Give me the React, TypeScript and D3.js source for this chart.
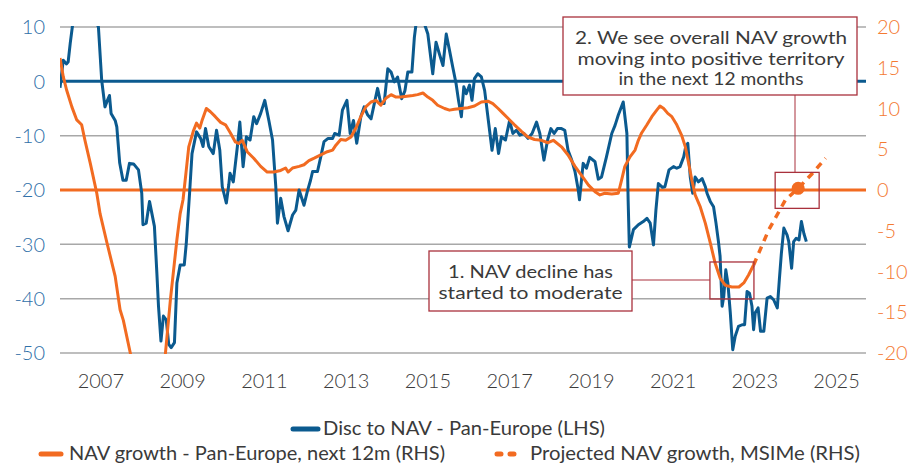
import React from 'react';
import * as d3 from 'd3';

const yearTicks = [2007, 2009, 2011, 2013, 2015, 2017, 2019, 2021, 2023, 2025];
const leftTicks = [10, 0, -10, -20, -30, -40, -50];
const rightTicks = [20, 15, 10, 5, 0, -5, -10, -15, -20];

const discDates = [
  2006.0, 2006.08, 2006.16, 2006.2, 2006.25, 2006.31, 2006.5, 2006.75, 2006.94, 2007.02,
  2007.1, 2007.16, 2007.21, 2007.25, 2007.35, 2007.39, 2007.46, 2007.54, 2007.62, 2007.7,
  2007.8, 2007.92, 2008.0, 2008.03, 2008.11, 2008.19, 2008.31, 2008.37, 2008.41, 2008.47,
  2008.53, 2008.6, 2008.66, 2008.72, 2008.8, 2008.86, 2008.94, 2009.04, 2009.09, 2009.17,
  2009.23, 2009.34, 2009.44, 2009.5, 2009.56, 2009.64, 2009.75, 2009.83, 2009.91, 2009.97,
  2010.07, 2010.13, 2010.16, 2010.24, 2010.34, 2010.4, 2010.48, 2010.56, 2010.65, 2010.74,
  2010.81, 2010.91, 2011.01, 2011.11, 2011.2, 2011.28, 2011.32, 2011.4, 2011.48, 2011.58,
  2011.69, 2011.77, 2011.85, 2011.97, 2012.05, 2012.13, 2012.18, 2012.3, 2012.38, 2012.46,
  2012.56, 2012.67, 2012.72, 2012.83, 2012.91, 2013.02, 2013.1, 2013.18, 2013.26, 2013.36,
  2013.44, 2013.53, 2013.61, 2013.69, 2013.77, 2013.85, 2013.93, 2014.02, 2014.1, 2014.18,
  2014.26, 2014.36, 2014.44, 2014.51, 2014.61, 2014.67, 2014.71, 2014.81, 2014.92, 2015.0,
  2015.12, 2015.2, 2015.28, 2015.37, 2015.45, 2015.53, 2015.61, 2015.69, 2015.75, 2015.82,
  2015.88, 2015.94, 2016.02, 2016.08, 2016.14, 2016.22, 2016.31, 2016.39, 2016.49, 2016.57,
  2016.65, 2016.73, 2016.8, 2016.9, 2017.0, 2017.08, 2017.17, 2017.25, 2017.35, 2017.45,
  2017.55, 2017.66, 2017.74, 2017.84, 2017.93, 2018.01, 2018.09, 2018.17, 2018.27, 2018.35,
  2018.43, 2018.52, 2018.6, 2018.68, 2018.71, 2018.8, 2018.88, 2018.96, 2019.09, 2019.17,
  2019.25, 2019.37, 2019.5, 2019.58, 2019.66, 2019.78, 2019.87, 2019.9, 2019.93, 2019.98,
  2020.03, 2020.15, 2020.27, 2020.36, 2020.44, 2020.52, 2020.58, 2020.64, 2020.74, 2020.8,
  2020.9, 2021.01, 2021.09, 2021.17, 2021.26, 2021.31, 2021.36, 2021.42, 2021.48, 2021.54,
  2021.62, 2021.71, 2021.79, 2021.83, 2021.91, 2021.99, 2022.05, 2022.11, 2022.15, 2022.2,
  2022.24, 2022.29, 2022.34, 2022.4, 2022.46, 2022.52, 2022.6, 2022.69, 2022.75, 2022.81,
  2022.87, 2022.93, 2022.97, 2023.01, 2023.08, 2023.14, 2023.22, 2023.3, 2023.38, 2023.46,
  2023.55, 2023.6, 2023.65, 2023.71, 2023.79, 2023.83, 2023.9, 2023.95, 2024.01, 2024.08,
  2024.14, 2024.2, 2024.26,
];
const discValues = [
  -1.2, 3.9, 3.2, 3.6, 7.0, 10.5, 14, 13, 10.0, 0.2,
  -4.7, -3.5, -2.6, -5.9, -7.2, -8.4, -15.0, -18.2, -18.2, -15.1,
  -15.2, -16.3, -20.6, -26.4, -26.1, -22.1, -26.7, -35.3, -41.4, -47.8,
  -43.2, -43.9, -48.4, -49.0, -48.1, -37.1, -33.8, -33.8, -29.8, -20.6,
  -13.3, -9.3, -10.5, -12.0, -8.7, -12.0, -13.3, -9.0, -12.7, -19.4,
  -22.4, -19.0, -16.9, -18.5, -12.0, -7.5, -15.7, -10.2, -10.8, -6.5,
  -7.8, -5.9, -3.5, -7.2, -10.8, -19.4, -26.1, -21.5, -24.9, -27.5,
  -24.6, -23.7, -20.0, -22.8, -20.3, -18.2, -16.6, -16.6, -13.9, -11.1,
  -10.5, -10.5, -9.6, -9.9, -5.3, -3.5, -9.6, -7.2, -11.4, -6.5,
  -4.7, -6.2, -6.9, -4.1, -1.3, -4.1, -4.1, 2.3, 1.7, -0.1,
  0.8, -3.2, -1.7, 1.7, 1.7, 8.1, 10.5, 13, 10.5, 8.7,
  1.4, 7.2, 5.1, 2.9, 8.7, 5.7, 2.6, -0.4, -3.5, -6.5,
  -1.0, -2.3, -0.7, -3.5, 0.5, 1.4, 0.8, -1.7, -7.8, -12.7,
  -8.7, -13.3, -10.2, -10.8, -7.2, -9.6, -9.0, -9.9, -9.6, -10.5,
  -9.6, -7.5, -9.6, -14.5, -10.8, -8.7, -9.6, -8.7, -8.7, -9.0,
  -12.7, -14.5, -16.6, -20.0, -21.8, -15.1, -16.0, -14.0, -14.8, -18.0,
  -17.6, -13.9, -9.6, -8.1, -6.2, -3.8, -9.6, -21.8, -30.5, -28.9,
  -27.3, -26.4, -25.8, -25.2, -26.1, -30.1, -23.7, -18.8, -19.5, -19.4,
  -16.3, -15.7, -16.0, -15.7, -13.9, -12.0, -11.4, -17.6, -20.6, -17.6,
  -18.5, -17.9, -19.4, -20.6, -22.1, -23.1, -26.1, -29.5, -32.2, -41.4,
  -39.6, -34.7, -37.1, -42.6, -49.4, -46.9, -45.1, -44.8, -44.8, -38.7,
  -39.0, -41.4, -45.7, -42.6, -41.7, -46.0, -46.0, -39.9, -39.6, -40.2,
  -41.7, -36.5, -31.6, -27.0, -28.3, -29.5, -34.4, -29.5, -28.9, -29.2,
  -25.8, -28.0, -29.5,
];

const navDates = [
  2006.0, 2006.08, 2006.16, 2006.29, 2006.41, 2006.53, 2006.61, 2006.74, 2006.9, 2006.98,
  2007.15, 2007.35, 2007.47, 2007.55, 2007.72, 2007.85, 2008.0, 2008.2, 2008.35, 2008.48,
  2008.58, 2008.7, 2008.78, 2008.86, 2008.94, 2009.01, 2009.08, 2009.15, 2009.26, 2009.34,
  2009.42, 2009.48, 2009.58, 2009.68, 2009.8, 2009.93, 2010.05, 2010.17, 2010.29, 2010.38,
  2010.46, 2010.58, 2010.74, 2010.91, 2011.07, 2011.23, 2011.4, 2011.52, 2011.58, 2011.69,
  2011.85, 2011.97, 2012.09, 2012.22, 2012.38, 2012.54, 2012.67, 2012.75, 2012.87, 2012.99,
  2013.12, 2013.24, 2013.36, 2013.48, 2013.61, 2013.73, 2013.85, 2013.98, 2014.1, 2014.22,
  2014.34, 2014.63, 2014.75, 2014.88, 2015.0, 2015.12, 2015.24, 2015.41, 2015.53, 2015.65,
  2015.82, 2015.98, 2016.14, 2016.31, 2016.47, 2016.59, 2016.72, 2016.84, 2016.96, 2017.12,
  2017.29, 2017.45, 2017.61, 2017.78, 2017.94, 2018.07, 2018.27, 2018.43, 2018.6, 2018.76,
  2018.93, 2019.09, 2019.21, 2019.33, 2019.5, 2019.66, 2019.74, 2019.82, 2019.95, 2020.07,
  2020.15, 2020.23, 2020.36, 2020.48, 2020.6, 2020.68, 2020.77, 2020.87, 2020.97, 2021.09,
  2021.21, 2021.3, 2021.38, 2021.46, 2021.54, 2021.66, 2021.79, 2021.91, 2022.03, 2022.15,
  2022.28, 2022.44, 2022.61, 2022.73, 2022.85, 2022.97,
];
const navValues = [
  16.2, 13.9, 12.3, 10.2, 8.6, 8.0, 6.1, 3.3, -0.4, -2.9,
  -6.5, -10.6, -14.7, -16.0, -20.0, -23, -27, -30, -30, -26,
  -20, -13.5, -9.8, -6.1, -2.9, -1.2, 2.0, 5.3, 7.2, 8.2,
  7.6, 8.6, 10.0, 9.6, 9.0, 8.3, 8.0, 7.0, 5.9, 5.7,
  6.1, 4.7, 3.9, 2.9, 2.2, 2.2, 2.4, 2.7, 2.2, 2.7,
  2.9, 3.1, 3.6, 3.9, 4.3, 4.7, 4.9, 5.5, 6.2, 6.1,
  6.5, 7.6, 9.0, 10.2, 10.8, 11.0, 10.4, 11.3, 11.7, 11.4,
  11.4, 11.6, 11.7, 11.9, 11.4, 11.0, 10.4, 10.0, 9.8, 9.9,
  10.0, 10.1, 10.3, 10.8, 10.9, 10.6, 10.0, 9.4, 8.8, 8.0,
  7.2, 6.5, 6.2, 6.1, 5.8, 6.1, 5.3, 4.3, 2.9, 1.8,
  0.6, -0.2, -0.6, -0.4, -0.5, -0.4, 1.2, 2.9, 4.1, 4.9,
  6.1, 7.0, 8.0, 9.0, 9.8, 10.3, 10.0, 9.4, 9.0, 8.0,
  6.7, 5.3, 3.3, 1.2, -0.6, -2.0, -4.1, -6.5, -9.0, -10.8,
  -11.7, -11.9, -11.9, -11.4, -10.4, -9.2,
];

const projDates = [2022.97, 2023.34, 2023.75, 2024.06, 2024.4, 2024.73];
const projValues = [-9.2, -4.9, -1.2, 0.2, 2.0, 3.9];
const highlightIndex = 3;

const note1Lines = ['1. NAV decline has', 'started to moderate'];
const note1Widths = [165, 184];
const note2Lines = ['2. We see overall NAV growth', 'moving into positive territory', 'in the next 12 months'];
const note2Widths = [272, 267, 185];

const legendRow1 = ['Disc to NAV - Pan-Europe (LHS)'];
const legendRow2 = ['NAV growth - Pan-Europe, next 12m (RHS)', 'Projected NAV growth, MSIMe (RHS)'];
const legendWidths = [282, 376, 330];

const BLUE = '#0b5a8f';
const BLUE_TXT = '#2f70a8';
const ORANGE = '#f26b21';
const ORANGE_TXT = '#f47a32';
const GRID = '#a8a8a8';
const RED = '#a9313c';
const TXT = '#3a3a3a';
const FONT = "Lato, 'Noto Sans', sans-serif";

const W = 909;
const H = 464;
const left = 60;
const right = 866;
const top = 27;
const bottom = 353;

export default function App() {
  const x = d3.scaleLinear().domain([2006, 2025.72]).range([left, right]);
  const yL = d3.scaleLinear().domain([-50, 10]).range([bottom, top]);
  const yR = d3.scaleLinear().domain([-20, 20]).range([bottom, top]);

  const disc = discDates.map((d, i) => [d, discValues[i]] as [number, number]);
  const nav = navDates.map((d, i) => [d, navValues[i]] as [number, number]);
  const proj = projDates.map((d, i) => [d, projValues[i]] as [number, number]);

  const lineL = d3.line<[number, number]>().x((d) => x(d[0])).y((d) => yL(d[1]));
  const lineR = d3.line<[number, number]>().x((d) => x(d[0])).y((d) => yR(d[1]));

  const hx = x(projDates[highlightIndex]);
  const hy = yR(projValues[highlightIndex]);

  const box2 = { x: 563, y: 17, w: 294, h: 78 };
  const small2 = { x: hx - 23, y: hy - 16, w: 44, h: 36 };
  const lowIdx = navValues.indexOf(d3.min(navValues.slice(100)) as number, 100);
  const lx = x(navDates[lowIdx]);
  const ly = yR(navValues[lowIdx]);
  const small1 = { x: lx - 22, y: ly - 25, w: 44, h: 37 };
  const box1 = { x: 429, y: 251, w: 203, h: 60 };

  return (
    <svg width={W} height={H} style={{ position: 'absolute', left: 0, top: 0, background: '#fff' }} fontFamily={FONT}>
      <defs>
        <clipPath id="plotclip">
          <rect x={left} y={top - 1} width={right - left} height={bottom - top + 2} />
        </clipPath>
      </defs>
      {leftTicks.filter((t) => t !== 0 && t !== -20).map((t) => (
        <line key={t} x1={left} x2={right} y1={yL(t)} y2={yL(t)} stroke={GRID} strokeWidth={1.5} />
      ))}
      <line x1={left} x2={right} y1={yL(0)} y2={yL(0)} stroke={BLUE} strokeWidth={3} />
      <line x1={left} x2={right} y1={yR(0)} y2={yR(0)} stroke={ORANGE} strokeWidth={3} />

      <g fontWeight={300}>
        {leftTicks.map((t) => (
          <text key={t} x={45} y={yL(t)} dy="0.36em" textAnchor="end" fontSize={20} fill={BLUE_TXT}>
            {t}
          </text>
        ))}
        {rightTicks.map((t) => (
          <text key={t} x={877} y={yR(t)} dy="0.36em" textAnchor="start" fontSize={20} fill={ORANGE_TXT}>
            {t}
          </text>
        ))}
        {yearTicks.map((t) => (
          <text key={t} x={x(t)} y={388} textAnchor="middle" fontSize={20} fill={TXT}>
            {t}
          </text>
        ))}
      </g>

      <g clipPath="url(#plotclip)">
        <path d={lineL(disc) || ''} fill="none" stroke={BLUE} strokeWidth={3} strokeLinejoin="round" />
        <path d={lineR(nav) || ''} fill="none" stroke={ORANGE} strokeWidth={3} strokeLinejoin="round" />
        <path d={lineR(proj) || ''} fill="none" stroke={ORANGE} strokeWidth={3.5} strokeDasharray="7 6" />
      </g>
      <circle cx={hx} cy={hy} r={6.5} fill={ORANGE} />

      <line x1={box1.x + box1.w} x2={small1.x} y1={280} y2={280} stroke={RED} strokeWidth={1} />
      <rect x={small1.x} y={small1.y} width={small1.w} height={small1.h} fill="none" stroke={RED} strokeWidth={1.3} />
      <rect x={box1.x} y={box1.y} width={box1.w} height={box1.h} fill="#fff" stroke={RED} strokeWidth={1.3} />
      {note1Lines.map((s, i) => (
        <text key={s} x={box1.x + box1.w / 2} y={278 + i * 21} textAnchor="middle" fontSize={18}
          textLength={note1Widths[i]} lengthAdjust="spacingAndGlyphs" fill={TXT}>
          {s}
        </text>
      ))}

      <line x1={795} x2={795} y1={box2.y + box2.h} y2={small2.y} stroke={RED} strokeWidth={1} />
      <rect x={small2.x} y={small2.y} width={small2.w} height={small2.h} fill="none" stroke={RED} strokeWidth={1.3} />
      <rect x={box2.x} y={box2.y} width={box2.w} height={box2.h} fill="#fff" stroke={RED} strokeWidth={1.3} />
      {note2Lines.map((s, i) => (
        <text key={s} x={box2.x + box2.w / 2 + 1} y={44 + i * 20.7} textAnchor="middle" fontSize={18}
          textLength={note2Widths[i]} lengthAdjust="spacingAndGlyphs" fill={TXT}>
          {s}
        </text>
      ))}

      <line x1={293} x2={318} y1={429} y2={429} stroke={BLUE} strokeWidth={5} strokeLinecap="round" />
      <text x={323} y={435} fontSize={19} textLength={legendWidths[0]} lengthAdjust="spacingAndGlyphs" fill={TXT}>{legendRow1[0]}</text>
      <line x1={41} x2={61} y1={454} y2={454} stroke={ORANGE} strokeWidth={5} strokeLinecap="round" />
      <text x={69} y={460} fontSize={19} textLength={legendWidths[1]} lengthAdjust="spacingAndGlyphs" fill={TXT}>{legendRow2[0]}</text>
      <line x1={497} x2={519} y1={454} y2={454} stroke={ORANGE} strokeWidth={5} strokeLinecap="round" strokeDasharray="4 9" />
      <text x={530} y={460} fontSize={19} textLength={legendWidths[2]} lengthAdjust="spacingAndGlyphs" fill={TXT}>{legendRow2[1]}</text>
    </svg>
  );
}
